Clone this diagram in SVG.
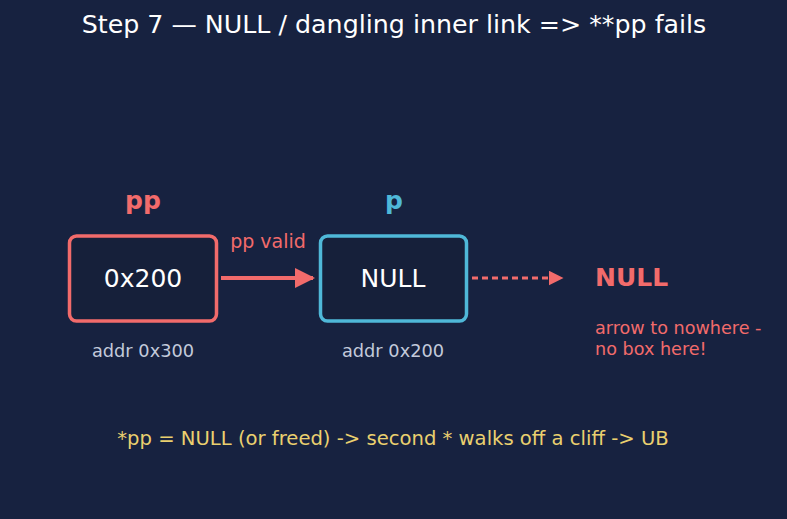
<svg xmlns="http://www.w3.org/2000/svg" width="787" height="519" viewBox="0 0 787 519">
<defs>
<style>
text{font-family:"DejaVu Sans","Liberation Sans",sans-serif;}
.box{fill:#16203a;stroke-width:3.5;}
.val{fill:#ffffff;font-size:25px;text-anchor:middle;}
.name{font-size:25px;font-weight:bold;text-anchor:middle;}
.addr{fill:#c3cadb;font-size:17.8px;text-anchor:middle;}
.red{fill:#f26b6b;}
</style>
<marker id="ah" viewBox="0 0 10 10" refX="9" refY="5" markerWidth="5" markerHeight="5" orient="auto" markerUnits="strokeWidth">
<path d="M0,0 L10,5 L0,10 Z" fill="#f26b6b"/>
</marker>
</defs>
<rect width="787" height="519" fill="#172240"/>
<text x="394" y="33" fill="#ffffff" font-size="25.3" text-anchor="middle">Step 7 — NULL / dangling inner link =&gt; **pp fails</text>
<g id="pp">
<text class="name red" x="143" y="209">pp</text>
<rect class="box" x="69.5" y="236" width="147" height="85" rx="7" stroke="#f26b6b"/>
<text class="val" x="143" y="287">0x200</text>
<text class="addr" x="143" y="357">addr 0x300</text>
</g>
<g id="p">
<text class="name" x="394" y="209" fill="#4fb8d8">p</text>
<rect class="box" x="320.5" y="236" width="146" height="85" rx="7" stroke="#4fb8d8"/>
<text class="val" x="393" y="287">NULL</text>
<text class="addr" x="393" y="357">addr 0x200</text>
</g>
<g id="nowhere">
<text x="595" y="286" fill="#f26b6b" font-size="25" font-weight="bold">NULL</text>
<text x="595" y="334" fill="#f26b6b" font-size="17.6">arrow to nowhere -</text>
<text x="595" y="355" fill="#f26b6b" font-size="17.6">no box here!</text>
</g>
<g id="connectors">
<line x1="221" y1="278" x2="313" y2="278" stroke="#f26b6b" stroke-width="4" marker-end="url(#ah)"/>
<text x="268" y="248" fill="#f26b6b" font-size="19" text-anchor="middle">pp valid</text>
<line x1="472" y1="278" x2="562" y2="278" stroke="#f26b6b" stroke-width="3" stroke-dasharray="6,4" marker-end="url(#ah)"/>
</g>
<text x="393" y="445" fill="#ead06f" font-size="19.6" text-anchor="middle">*pp = NULL (or freed) -&gt; second * walks off a cliff -&gt; UB</text>
</svg>
